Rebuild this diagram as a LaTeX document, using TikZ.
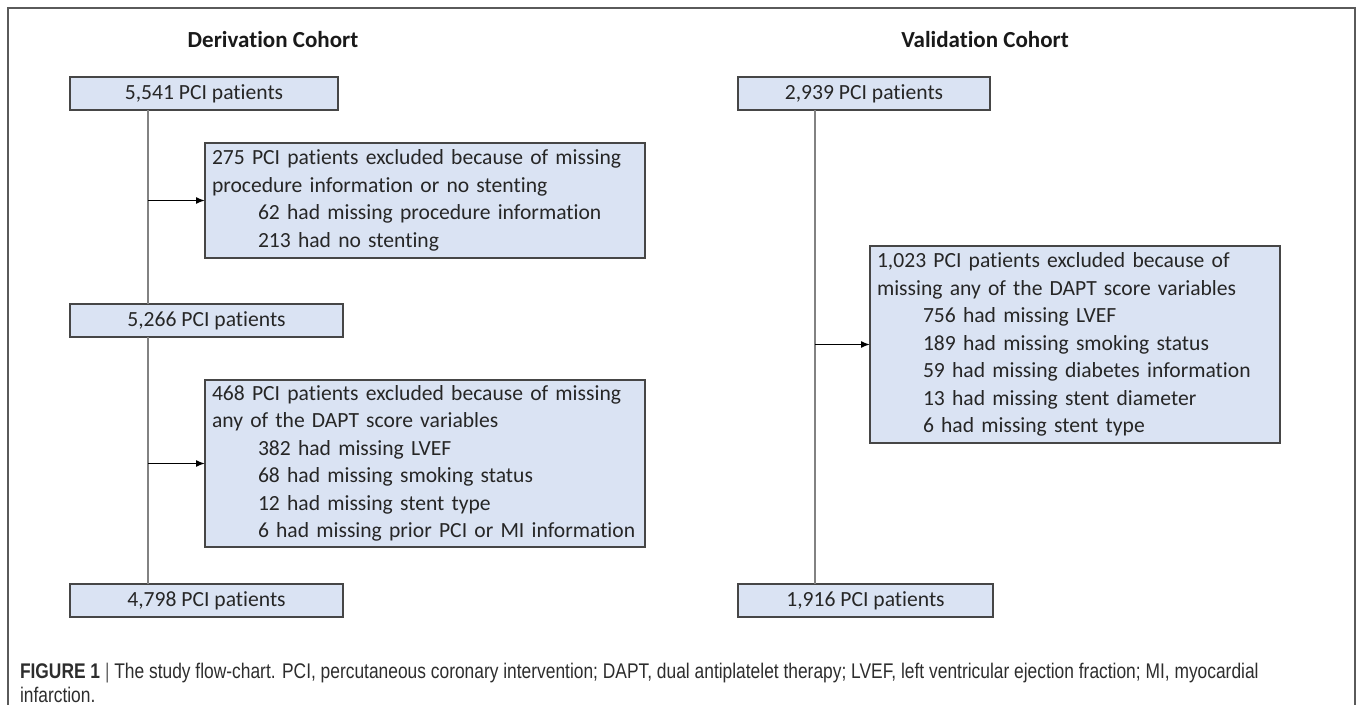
\documentclass[tikz,border=0pt]{standalone}
\usepackage{fontspec}
\setmainfont[Ligatures=NoCommon]{Carlito}
\newfontfamily\capfont[FakeStretch=0.82]{Liberation Sans}
\usetikzlibrary{arrows.meta}

\definecolor{boxfill}{RGB}{218,227,243}
\definecolor{boxline}{RGB}{70,70,70}
\definecolor{trunkgray}{RGB}{130,130,130}
\definecolor{framegray}{RGB}{90,90,90}
\definecolor{captext}{RGB}{45,45,45}

\newcommand{\ind}{\hspace*{23pt}}

\begin{document}
\begin{tikzpicture}[x=0.5pt, y=-0.5pt,
  every node/.style={inner sep=0pt, outer sep=0pt},
  countbox/.style={draw=boxline, fill=boxfill, line width=0.7pt, anchor=north west,
    minimum height=16.5pt, text=black!85, font=\fontsize{10.8}{13.75}\selectfont},
  exclbox/.style={countbox, align=left, inner xsep=3.5pt},
  trunk/.style={draw=trunkgray, line width=0.6pt},
  arrow/.style={draw=black, line width=0.7pt, -{Latex[length=4.5pt,width=3.5pt]}},
  heading/.style={font=\fontsize{11.5}{14}\bfseries\selectfont, text=black!90}]
  \useasboundingbox (0,0) rectangle (1357,705);
  \draw[framegray, line width=1pt] (8,705) -- (8,8) -- (1355,8) -- (1355,705);

  % headings
  \node[heading] (derivtitle) at (273,40) {Derivation Cohort};
  \node[heading] (validtitle) at (985,40) {Validation Cohort};

  % derivation cohort
  \node[countbox, minimum width=134pt] (derivA) at (70,77) {5,541 PCI patients};
  \node[exclbox, text width=213pt, minimum height=57.5pt] (exclA) at (205,143)
    {275 PCI patients excluded because of missing\\
     procedure information or no stenting\\
     \ind 62 had missing procedure information\\
     \ind 213 had no stenting};
  \node[countbox, minimum width=136.5pt] (derivB) at (70,304) {5,266 PCI patients};
  \node[exclbox, text width=213pt, minimum height=83.5pt] (exclB) at (205,380)
    {468 PCI patients excluded because of missing\\
     any of the DAPT score variables\\
     \ind 382 had missing LVEF\\
     \ind 68 had missing smoking status\\
     \ind 12 had missing stent type\\
     \ind \mbox{6 had missing prior PCI or MI information}};
  \node[countbox, minimum width=136.5pt] (derivC) at (70,584) {4,798 PCI patients};

  \coordinate (trunkL) at (148,0);
  \draw[trunk] (derivA.south -| trunkL) -- (derivB.north -| trunkL);
  \draw[trunk] (derivB.south -| trunkL) -- (derivC.north -| trunkL);
  \draw[arrow] (exclA.west -| trunkL) -- (exclA.west);
  \draw[arrow] (exclB.west -| trunkL) -- (exclB.west);

  % validation cohort
  \node[countbox, minimum width=126pt] (validA) at (738,77) {2,939 PCI patients};
  \node[exclbox, text width=198pt, minimum height=98.5pt] (exclC) at (870,246)
    {1,023 PCI patients excluded because of\\
     missing any of the DAPT score variables\\
     \ind 756 had missing LVEF\\
     \ind 189 had missing smoking status\\
     \ind 59 had missing diabetes information\\
     \ind 13 had missing stent diameter\\
     \ind 6 had missing stent type};
  \node[countbox, minimum width=127.5pt] (validB) at (738,584) {1,916 PCI patients};

  \coordinate (trunkR) at (815,0);
  \draw[trunk] (validA.south -| trunkR) -- (validB.north -| trunkR);
  \draw[arrow] (exclC.west -| trunkR) -- (exclC.west);

  % caption
  \node[anchor=west, align=left, text=captext, font=\capfont\fontsize{10.6}{12}\selectfont] (caption) at (20,683)
    {\textbf{FIGURE 1} {\color{black!60}|} The study flow-chart. PCI, percutaneous coronary intervention; DAPT, dual antiplatelet therapy; LVEF, left ventricular ejection fraction; MI, myocardial\\
     infarction.};
\end{tikzpicture}
\end{document}
